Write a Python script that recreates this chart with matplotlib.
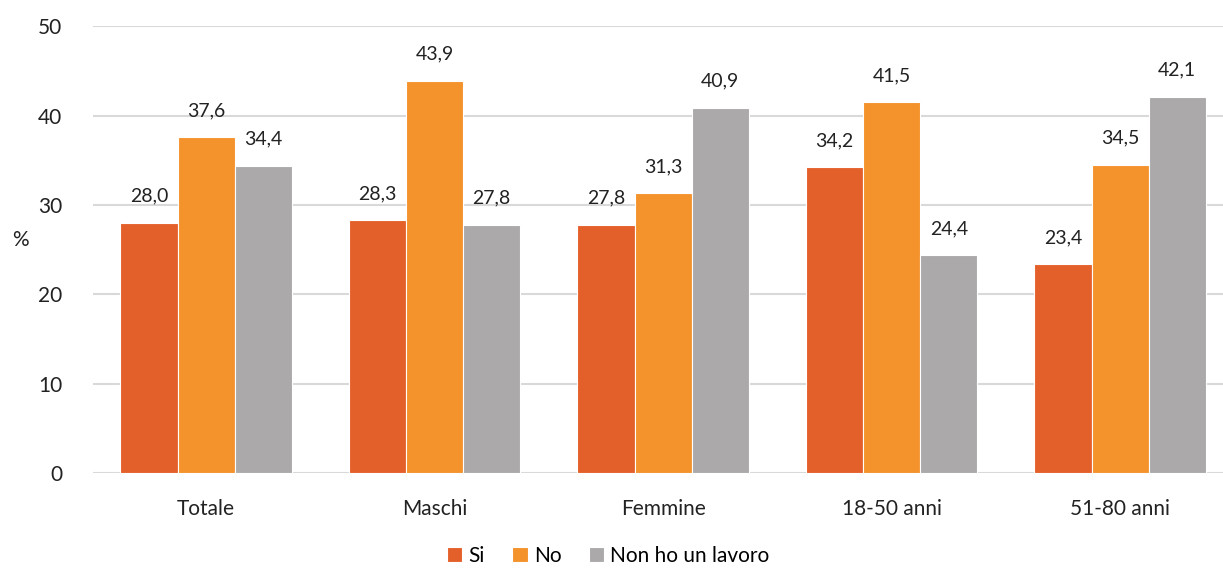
import matplotlib.pyplot as plt
import numpy as np

plt.rcParams['font.family'] = ['Lato', 'DejaVu Sans']

categories = ['Totale', 'Maschi', 'Femmine', '18-50 anni', '51-80 anni']
series_names = ['Si', 'No', 'Non ho un lavoro']
si = [28.0, 28.3, 27.8, 34.2, 23.4]
no = [37.6, 43.9, 31.3, 41.5, 34.5]
non_lavoro = [34.4, 27.8, 40.9, 24.4, 42.1]
colors = ['#E4602A', '#F4922C', '#ACA9AA']

fig = plt.figure(figsize=(12.23, 5.70), dpi=100)
ax = fig.add_axes([0.076, 0.170, 0.924, 0.784])

x = np.arange(len(categories))
w = 0.25
for i, (vals, name, c) in enumerate(zip([si, no, non_lavoro], series_names, colors)):
    bars = ax.bar(x + (i - 1) * w, vals, w, color=c, label=name,
                  edgecolor='white', linewidth=0.8, zorder=3)
    for b, v in zip(bars, vals):
        ax.annotate(f'{v:.1f}'.replace('.', ','),
                    (b.get_x() + b.get_width() / 2, v),
                    xytext=(0, 13), textcoords='offset points',
                    ha='center', va='bottom', fontsize=14, color='#222222')

ax.set_ylim(0, 50)
ax.set_xlim(-0.495, 4.45)
ax.set_yticks(range(0, 51, 10))
ax.yaxis.grid(True, color='#D9D9D9', linewidth=1.5, zorder=0)
ax.set_axisbelow(True)
for s in ax.spines.values():
    s.set_visible(False)
ax.tick_params(axis='both', length=0, labelsize=15, colors='#222222')
ax.tick_params(axis='y', pad=22)
ax.tick_params(axis='x', pad=19, labelsize=15)
ax.set_xticks(x)
ax.set_xticklabels(categories)
ax.set_ylabel('%', rotation=0, fontsize=15, color='#222222', labelpad=14)
ax.yaxis.set_label_coords(-0.064, 0.50)

ax.legend(loc='lower center', bbox_to_anchor=(0.456, -0.24), ncol=3, frameon=False,
          fontsize=15, handlelength=0.75, handleheight=0.75, handletextpad=0.3,
          columnspacing=1.3, borderpad=0.2)

fig.savefig('out.png', dpi=100)
